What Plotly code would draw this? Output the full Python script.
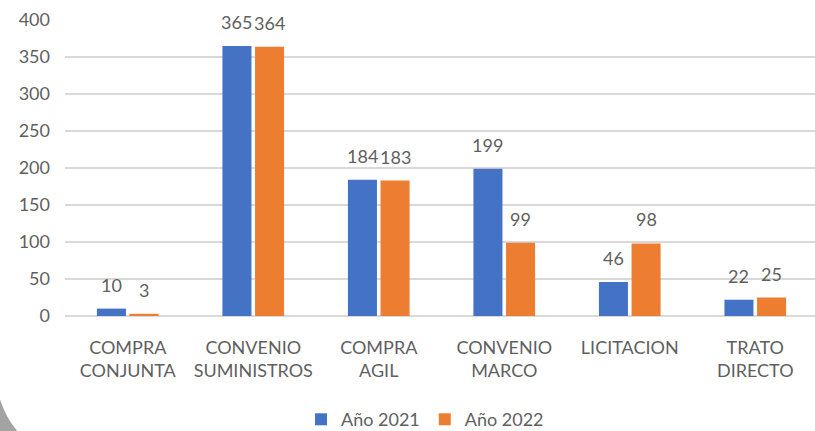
import plotly.graph_objects as go

categories = ["COMPRA<br>CONJUNTA", "CONVENIO<br>SUMINISTROS", "COMPRA<br>AGIL",
              "CONVENIO<br>MARCO", "LICITACION", "TRATO<br>DIRECTO"]
y2021 = [10, 365, 184, 199, 46, 22]
y2022 = [3, 364, 183, 99, 98, 25]
series_names = ["Año 2021", "Año 2022"]
colors = ["#4472C4", "#ED7D31"]

W, H = 815, 431
ML, MR, MT, MB = 65, 0, 20, 115
FONT = "Lato"
FS = 18
TXT = "#5f5f5f"

fig = go.Figure()
for name, vals, col in zip(series_names, [y2021, y2022], colors):
    fig.add_trace(go.Bar(
        x=categories, y=vals, name=name, marker_color=col,
        marker_line_width=0,
    ))

# value labels placed above each bar
annotations = []
for vals, shift in zip([y2021, y2022], [-16.3, 16.3]):
    for c, v in zip(categories, vals):
        annotations.append(dict(x=c, y=v, xref="x", yref="y", text=str(v),
                                showarrow=False, xshift=shift, yshift=11,
                                yanchor="bottom",
                                font=dict(size=FS, color=TXT, family=FONT)))

pw = W - ML - MR
ph = H - MT - MB
def px(x):
    return (x - ML) / pw
def py(y):
    return (H - MB - y) / ph

# decorative frame shadow at lower-left corner
path = (f"M {px(-2)},{py(393)} Q {px(5)},{py(418)} {px(19)},{py(433)} "
        f"L {px(-2)},{py(433)} Z")
shapes = [dict(type="path", xref="paper", yref="paper", path=path,
               fillcolor="rgba(140,140,140,0.8)", line=dict(width=0), layer="above")]

fig.update_layout(
    width=W, height=H,
    margin=dict(l=ML, r=MR, t=MT, b=MB, autoexpand=False),
    paper_bgcolor="white", plot_bgcolor="white",
    barmode="group", bargap=0.48, bargroupgap=0.11,
    font=dict(family=FONT, size=FS, color=TXT),
    showlegend=True,
    legend=dict(orientation="h", x=0.48, xanchor="center", y=-0.35, yanchor="middle",
                font=dict(size=FS, color=TXT, family=FONT),
                itemwidth=30, traceorder="normal"),
    xaxis=dict(showgrid=False, showline=False, ticks="", range=[-0.5, 5.476],
               ticklabelstandoff=19,
               tickfont=dict(size=FS, color=TXT, family=FONT)),
    yaxis=dict(range=[0, 400], dtick=50, showgrid=True, gridcolor="#D9D9D9",
               gridwidth=1.5, zeroline=True, zerolinecolor="#D9D9D9", zerolinewidth=1.5,
               showline=False, ticks="", ticklabelstandoff=14,
               tickfont=dict(size=FS, color=TXT, family=FONT)),
    shapes=shapes,
    annotations=annotations,
)

fig.write_html("out.html", config={"displayModeBar": False},
               post_script="document.body.style.margin='0';")
